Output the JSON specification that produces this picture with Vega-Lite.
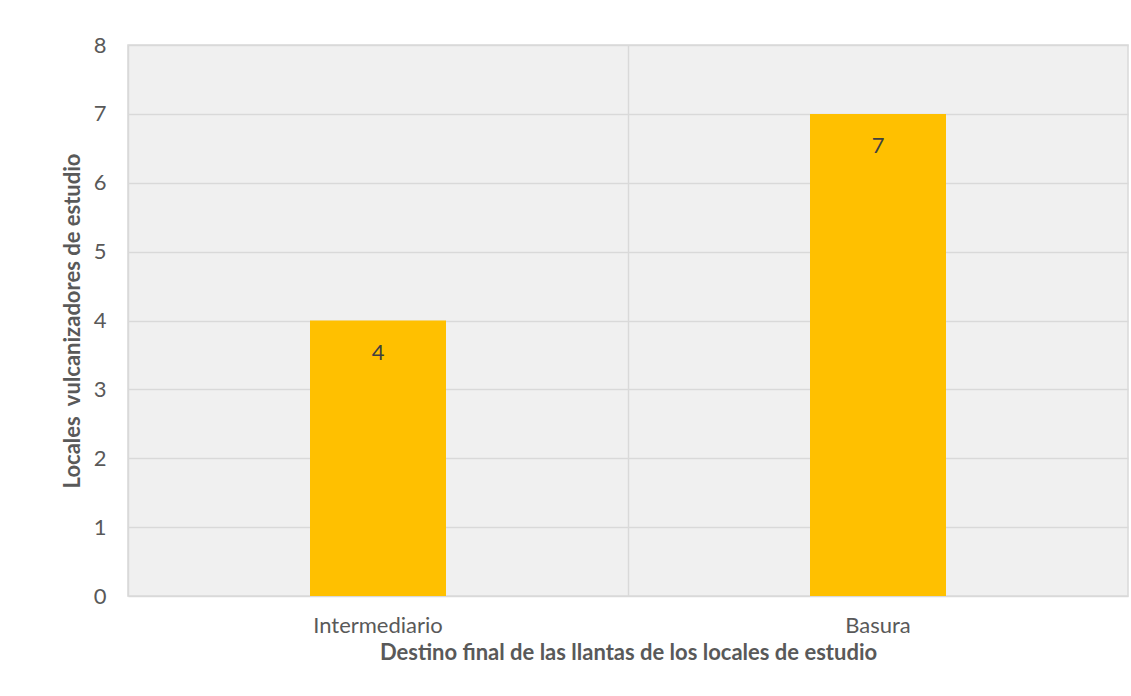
{
  "$schema": "https://vega.github.io/schema/vega-lite/v6.json",
  "autosize": {"type": "none"},
  "width": 1000,
  "height": 551,
  "padding": {"left": 128, "top": 45, "right": 3, "bottom": 100},
  "background": "white",
  "config": {
    "font": "Lato",
    "view": {"fill": "#f0f0f0", "stroke": "#d9d9d9", "strokeWidth": 1.5}
  },
  "data": {"values": [
    {"destino": "Intermediario", "locales": 4},
    {"destino": "Basura", "locales": 7}
  ]},
  "encoding": {
    "x": {
      "field": "destino", "type": "nominal", "sort": null,
      "scale": {"paddingInner": 0, "paddingOuter": 0},
      "axis": {
        "title": "Destino final de las llantas de los locales de estudio",
        "titleFontSize": 22, "titleFontWeight": "bold", "titleColor": "#595959",
        "titlePadding": 6,
        "labelAngle": 0, "labelFontSize": 22, "labelColor": "#595959", "labelPadding": 19,
        "ticks": false, "domain": false,
        "grid": true, "gridColor": "#d9d9d9", "gridWidth": 1.5, "bandPosition": 0
      }
    },
    "y": {
      "field": "locales", "type": "quantitative",
      "scale": {"domain": [0, 8]},
      "axis": {
        "title": "Locales \u00a0vulcanizadores de estudio",
        "titleFontSize": 22, "titleFontWeight": "bold", "titleColor": "#595959",
        "titlePadding": 9,
        "tickCount": 8, "labelFontSize": 22, "labelColor": "#595959", "labelPadding": 22,
        "ticks": false, "domain": false,
        "grid": true, "gridColor": "#d9d9d9", "gridWidth": 1.5
      }
    }
  },
  "layer": [
    {"mark": {"type": "bar", "color": "#ffc000", "width": {"band": 0.272}}},
    {
      "mark": {"type": "text", "baseline": "middle", "dy": 32, "fontSize": 22, "color": "#404040"},
      "encoding": {"text": {"field": "locales", "type": "quantitative"}}
    }
  ]
}
